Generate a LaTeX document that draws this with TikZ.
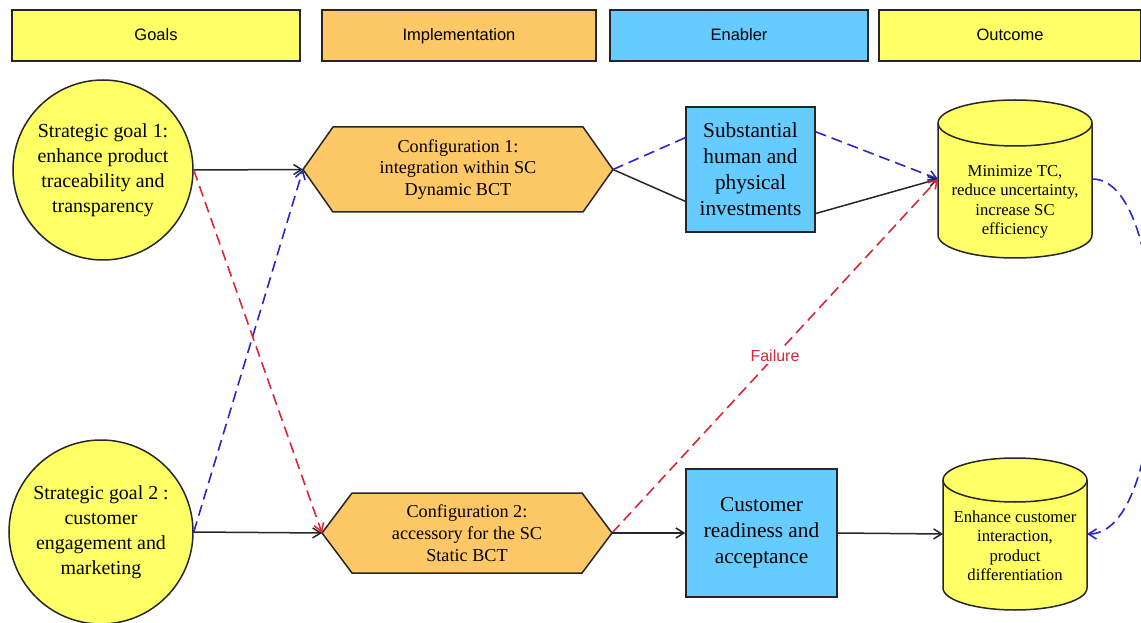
\documentclass[tikz,border=0pt]{standalone}
\usepackage{fontspec}
\setmainfont{Liberation Serif}
\setsansfont{Liberation Sans}
\usetikzlibrary{arrows.meta,calc,backgrounds}
\definecolor{goalyel}{HTML}{FFFF66}
\definecolor{implorg}{HTML}{FDC865}
\definecolor{enblue}{HTML}{66CCFF}
\definecolor{dblue}{RGB}{40,40,200}
\definecolor{dred}{RGB}{215,40,55}
\tikzset{
  hdr/.style={draw=black!85,line width=1.4pt,minimum height=51,inner sep=0pt,
    text height=12pt,text depth=2pt,font=\sffamily\fontsize{16.5}{20}\selectfont},
  goal/.style={circle,draw=black!85,fill=goalyel,line width=1.5pt,align=center,inner sep=0pt,
    font=\fontsize{19.9}{25}\selectfont},
  cfg/.style={outer sep=0pt,align=center,font=\fontsize{18.2}{21.7}\selectfont},
  hexb/.style={draw=black!85,fill=implorg,line width=1.5pt},
  enab/.style={draw=black!85,fill=enblue,line width=1.5pt,align=center,
    font=\fontsize{21.3}{26}\selectfont},
  outc/.style={outer sep=0pt,inner sep=0pt},
  outt/.style={align=center,inner sep=0pt,font=\fontsize{16.7}{19.5}\selectfont},
  cylb/.style={draw=black!85,fill=goalyel,line width=1.5pt},
  lin/.style={draw=black!85,line width=1.5pt},
  arr/.style={lin,-{Straight Barb[length=8pt,width=10pt]}},
  dshb/.style={draw=dblue,line width=1.6pt,dash pattern=on 11pt off 6pt},
  dshr/.style={draw=dred,line width=1.6pt,dash pattern=on 11pt off 6pt},
}
\begin{document}
\begin{tikzpicture}[x=1pt,y=1pt]
  \useasboundingbox (0,0) rectangle (1141,622);
  % column headers
  \node[hdr,fill=goalyel,minimum width=288] (hgoal) at (156,586.5) {Goals};
  \node[hdr,fill=implorg,minimum width=274] (himpl) at (459,586.5) {Implementation};
  \node[hdr,fill=enblue,minimum width=258] (henab) at (739,586.5) {Enabler};
  \node[hdr,fill=goalyel,minimum width=262] (houtc) at (1010,586.5) {Outcome};
  % goals
  \node[goal,minimum size=180] (goal1) at (103,452) {Strategic goal 1:\\enhance product\\traceability and\\transparency};
  \node[goal,minimum size=184] (goal2) at (101,90) {Strategic goal 2 :\\customer\\engagement and\\marketing};
  % configurations
  \node[cfg,minimum width=310,minimum height=85] (hex1) at (458,452.5) {Configuration 1:\\integration within SC\\Dynamic BCT};
  \node[cfg,minimum width=290,minimum height=80] (hex2) at (467,89) {Configuration 2:\\accessory for the SC\\Static BCT};
  % enablers
  \node[enab,minimum width=129,minimum height=125] (box1) at (750.5,452.5) {Substantial\\human and\\physical\\investments};
  \node[enab,minimum width=151,minimum height=128] (box2) at (761.5,89) {Customer\\readiness and\\acceptance};
  % outcomes
  \node[outc,minimum width=154,minimum height=158,
    label={[outt,yshift=-23]center:{Minimize TC,\\reduce uncertainty,\\increase SC\\efficiency}}] (cyl1) at (1015,443) {};
  \node[outc,minimum width=144,minimum height=152,
    label={[outt,yshift=-12]center:{Enhance customer\\interaction,\\product\\differentiation}}] (cyl2) at (1015,88) {};
  \begin{scope}[on background layer]
    \foreach \h in {hex1,hex2}
      \draw[hexb] (\h.west) -- ($(\h.north west)+(30,0)$) -- ($(\h.north east)+(-30,0)$) -- (\h.east)
        -- ($(\h.south east)+(-30,0)$) -- ($(\h.south west)+(30,0)$) -- cycle;
    \foreach \c/\rx/\ry in {cyl1/77/23,cyl2/72/22} {
      \draw[cylb] ($(\c.north west)+(0,-\ry)$) -- ($(\c.south west)+(0,\ry)$)
        arc[start angle=180,end angle=360,x radius=\rx,y radius=\ry]
        -- ($(\c.north east)+(0,-\ry)$)
        arc[start angle=0,end angle=180,x radius=\rx,y radius=\ry] -- cycle;
      \draw[lin] ($(\c.north west)+(0,-\ry)$) arc[start angle=180,end angle=360,x radius=\rx,y radius=\ry];
    }
  \end{scope}
  % connectors
  \draw[arr] (goal1.east) -- (hex1.west);
  \draw[arr] (goal2.east) -- (hex2.west);
  \draw[arr,dshb] (goal2.east) -- (hex1.west);
  \draw[arr,dshr] (goal1.east) -- (hex2.west);
  \draw[lin] (hex1.east) -- (box1.206);
  \draw[lin,dshb] (hex1.east) -- (box1.154);
  \draw[arr,dshb] (box1.30) -- (cyl1.west);
  \draw[arr] (box1.-34) -- (cyl1.west);
  \draw[arr,dshr] (hex2.east) -- node[fill=white,inner sep=2pt,text=dred,font=\sffamily\fontsize{16}{19}\selectfont] (fail) {Failure} (cyl1.west);
  \draw[arr] (hex2.east) -- (box2.west);
  \draw[arr] (box2.east) -- (cyl2.west);
  \draw[arr,dshb] (cyl1.east) .. controls (1175,444) and (1175,88) .. (cyl2.east);
\end{tikzpicture}
\end{document}
